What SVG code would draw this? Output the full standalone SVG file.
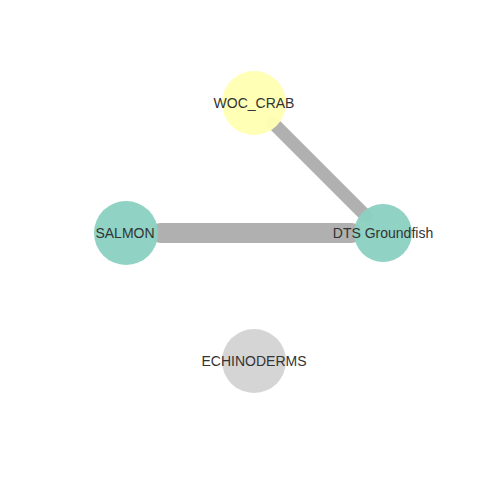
<svg xmlns="http://www.w3.org/2000/svg" width="480" height="480" viewBox="0 0 480 480">
<style>
.edge{stroke:#b0b0b0;stroke-linecap:round;fill:none}
.node circle{fill-opacity:0.96}
.node text{font-family:"Liberation Sans",Arial,sans-serif;font-size:14px;fill:#333333;text-anchor:middle}
</style>
<rect width="480" height="480" fill="#ffffff"/>
<g id="edges">
<line class="edge" x1="273" y1="123" x2="366" y2="216" stroke-width="13"/>
<line class="edge" x1="160" y1="233" x2="352" y2="233" stroke-width="20"/>
</g>
<g id="node-woc-crab" class="node">
<circle cx="254" cy="103" r="32" fill="#ffffb3"/>
<text x="254" y="108">WOC_CRAB</text>
</g>
<g id="node-salmon" class="node">
<circle cx="126" cy="233" r="32" fill="#8bd1c2"/>
<text x="125" y="238">SALMON</text>
</g>
<g id="node-dts-groundfish" class="node">
<circle cx="383" cy="233" r="29" fill="#8bd1c2"/>
<text x="383" y="238">DTS Groundfish</text>
</g>
<g id="node-echinoderms" class="node">
<circle cx="254" cy="361" r="32" fill="#d3d3d3"/>
<text x="254" y="366">ECHINODERMS</text>
</g>
</svg>
